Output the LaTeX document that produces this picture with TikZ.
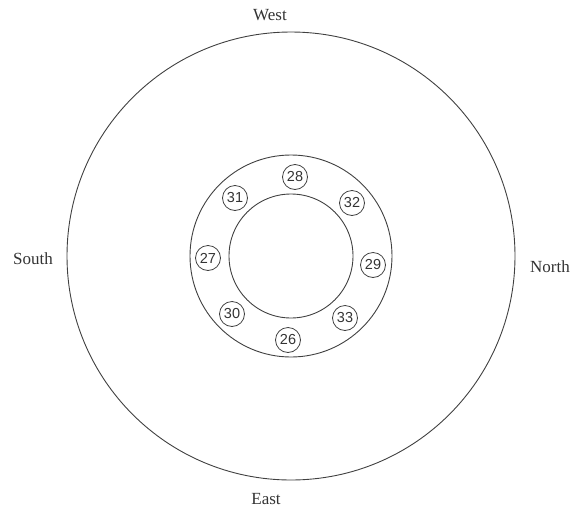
\documentclass[tikz,border=0pt]{standalone}
\usepackage{fontspec}
\setmainfont{Liberation Serif}
\setsansfont{Liberation Sans}
\begin{document}
\begin{tikzpicture}[x=1pt,y=-1pt,
  ring/.style={draw=black!75,line width=0.9pt},
  num/.style={circle,draw=black!75,line width=0.8pt,minimum size=25pt,inner sep=0pt,font=\sffamily\fontsize{14.5}{14.5}\selectfont,text=black!80},
  dir/.style={font=\fontsize{17}{18}\selectfont,text=black!80}]
\useasboundingbox (0,0) rectangle (573,512);
\coordinate (c) at (291,256);
\draw[ring] (c) circle[radius=224];
\draw[ring] (c) circle[radius=101];
\draw[ring] (c) circle[radius=62];
\node[num] (n28) at (295,177) {28};
\node[num] (n31) at (235,198) {31};
\node[num] (n32) at (352,203) {32};
\node[num] (n27) at (208,258) {27};
\node[num] (n29) at (373,265) {29};
\node[num] (n30) at (232,314) {30};
\node[num] (n33) at (345,318) {33};
\node[num] (n26) at (288,340) {26};
\node[dir] (w) at (270,15) {West};
\node[dir] (e) at (266,499) {East};
\node[dir] (s) at (33,259) {South};
\node[dir] (nn) at (550,267) {North};
\end{tikzpicture}
\end{document}
